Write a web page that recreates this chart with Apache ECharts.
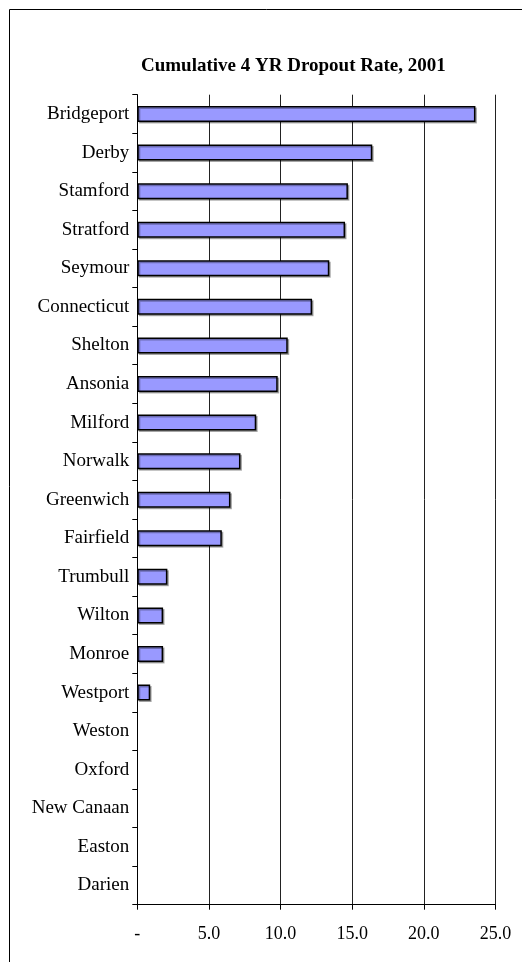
<!DOCTYPE html>
<html>
<head>
<meta charset="utf-8">
<script src="https://cdn.jsdelivr.net/npm/echarts@6/dist/echarts.min.js"></script>
<style>
    html, body { margin: 0; padding: 0; background: #fff; }
    #chart-container { width: 522px; height: 962px; }
</style>
</head>
<body>
<div id="chart-container"></div>
<script>
const towns = [
    'Bridgeport', 'Derby', 'Stamford', 'Stratford', 'Seymour', 'Connecticut',
    'Shelton', 'Ansonia', 'Milford', 'Norwalk', 'Greenwich', 'Fairfield',
    'Trumbull', 'Wilton', 'Monroe', 'Westport', 'Weston', 'Oxford',
    'New Canaan', 'Easton', 'Darien'
]
const dropoutRates = [
    23.6, 16.4, 14.7, 14.5, 13.4, 12.2,
    10.5, 9.8, 8.3, 7.2, 6.5, 5.9,
    2.1, 1.8, 1.8, 0.9, 0, 0,
    0, 0, 0
]
const xTicks = [0, 5, 10, 15, 20, 25]

const FONT = '"Liberation Serif", "Times New Roman", serif'

const chartContainer = document.getElementById('chart-container')
const chart = echarts.init(chartContainer)

// zero rates have no visible bar in the original, so skip them
const barData = dropoutRates.map(v => v === 0 ? '-' : v)

chart.setOption({
    animation: false,
    title: {
        text: 'Cumulative 4 YR Dropout Rate, 2001',
        left: 136,
        top: 52,
        textStyle: {
            fontFamily: FONT,
            fontSize: 19,
            fontWeight: 'bold',
            color: '#000',
            lineHeight: 19
        }
    },
    graphic: [
        {
            type: 'rect',
            shape: { x: 9.5, y: 9.5, width: 700, height: 1100 },
            style: { fill: 'none', stroke: '#000', lineWidth: 1 },
            silent: true
        }
    ],
    grid: {
        left: 137.3,
        right: 26.5,
        top: 94.7,
        bottom: 57.3
    },
    xAxis: {
        type: 'value',
        min: xTicks[0],
        max: xTicks[xTicks.length - 1],
        interval: 5,
        axisLine: { show: true, lineStyle: { color: '#000', width: 1 } },
        axisTick: { show: true, length: 5, lineStyle: { color: '#000' } },
        splitLine: { show: true, lineStyle: { color: '#222', width: 1 } },
        axisLabel: {
            margin: 21,
            fontFamily: FONT,
            fontSize: 18,
            color: '#000',
            formatter: v => v === 0 ? '-' : v.toFixed(1)
        }
    },
    yAxis: {
        type: 'category',
        data: towns,
        inverse: true,
        axisLine: { show: true, lineStyle: { color: '#000', width: 1 } },
        axisTick: { show: true, length: 5, lineStyle: { color: '#000' } },
        axisLabel: {
            margin: 8,
            fontFamily: FONT,
            fontSize: 19,
            color: '#000'
        }
    },
    series: [
        {
            type: 'bar',
            data: barData,
            barWidth: 16,
            itemStyle: {
                color: '#9999ff',
                borderColor: '#000',
                borderWidth: 1.5,
                shadowColor: 'rgba(0, 0, 0, 0.3)',
                shadowOffsetX: 1.5,
                shadowOffsetY: 1.5,
                shadowBlur: 0
            }
        }
    ]
})
</script>
</body>
</html>
